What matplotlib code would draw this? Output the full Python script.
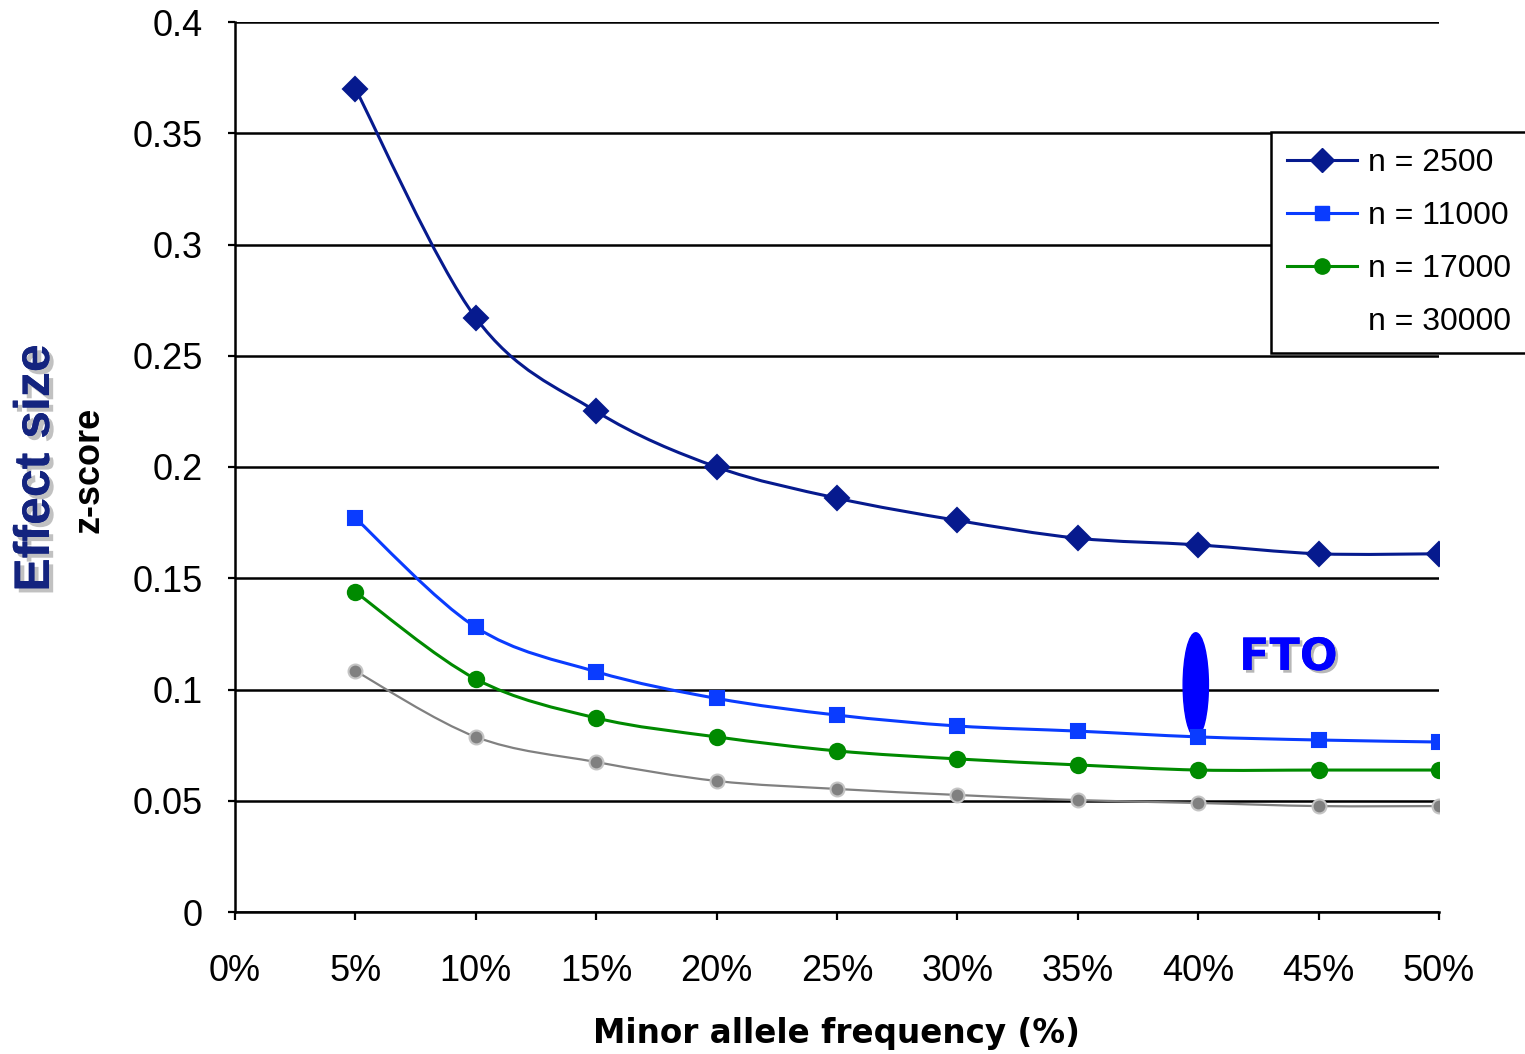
import numpy as np
import matplotlib
matplotlib.use('Agg')
import matplotlib.pyplot as plt
import matplotlib.patheffects as pe
from matplotlib.path import Path
from matplotlib.patches import PathPatch, Ellipse
from matplotlib.lines import Line2D

# minor allele frequency (%) and detectable effect size per sample size
maf = [5, 10, 15, 20, 25, 30, 35, 40, 45, 50]
n2500 = [0.370, 0.267, 0.225, 0.200, 0.186, 0.176, 0.168, 0.165, 0.161, 0.161]
n11000 = [0.177, 0.128, 0.108, 0.096, 0.0885, 0.0836, 0.0813, 0.0787, 0.0773, 0.0764]
n17000 = [0.1438, 0.1047, 0.0872, 0.0787, 0.0724, 0.0688, 0.0661, 0.0638, 0.0638, 0.0638]
n30000 = [0.1083, 0.0787, 0.0674, 0.0589, 0.0553, 0.0526, 0.0503, 0.049, 0.0476, 0.0476]
labels = ['n = 2500', 'n = 11000', 'n = 17000', 'n = 30000']
xticks = list(range(0, 55, 5))
yticks = [0, 0.05, 0.1, 0.15, 0.2, 0.25, 0.3, 0.35, 0.4]
fto_x, fto_y = 39.9, 0.102

navy = '#061a8e'
blue = '#0a3cff'
green = '#008a00'
grey = '#808080'


def smooth(x, y):
    # excel-style smoothed line: cubic bezier segments with catmull-rom tangents
    p = np.column_stack([x, y]).astype(float)
    verts = [p[0]]
    codes = [Path.MOVETO]
    for i in range(len(p) - 1):
        p0 = p[max(i - 1, 0)]
        p1 = p[i]
        p2 = p[i + 1]
        p3 = p[min(i + 2, len(p) - 1)]
        verts += [p1 + (p2 - p0) / 6, p2 - (p3 - p1) / 6, p2]
        codes += [Path.CURVE4] * 3
    return Path(verts, codes)


plt.rcParams['font.family'] = ['Liberation Sans', 'DejaVu Sans']
fig = plt.figure(figsize=(15.25, 10.54), dpi=100)
ax = fig.add_axes([235 / 1525, 142 / 1054, 1204 / 1525, 890 / 1054])

series = [
    (n2500, navy, 'D', 12, navy, 2.2),
    (n11000, blue, 's', 10, blue, 2.2),
    (n17000, green, 'o', 11, green, 2.2),
    (n30000, grey, 'o', 10, '#c4c4c4', 1.6),
]
handles = []
for (vals, col, mk, ms, mec, lw), lab in zip(series, labels):
    ax.add_patch(PathPatch(smooth(maf, vals), fill=False, edgecolor=col, lw=lw, zorder=3))
    ax.plot(maf, vals, linestyle='none', marker=mk, ms=ms, mfc=col, mec=mec,
            mew=1.5, zorder=4)
    if vals is n30000:
        handles.append(Line2D([], [], linestyle='none', label=lab))
    else:
        handles.append(Line2D([], [], color=col, lw=lw, marker=mk, ms=ms, mfc=col,
                              mec=mec, label=lab))

ax.add_patch(Ellipse((fto_x, fto_y), 1.05, 0.047, color='#0000ff', zorder=3.5))
ax.text(41.7, 0.1088, 'FTO', color='#0000ff', fontsize=32, fontweight='bold',
        family='DejaVu Sans', ha='left', va='baseline', zorder=5,
        path_effects=[pe.withSimplePatchShadow(offset=(2, -2), shadow_rgbFace='#888888',
                                               alpha=0.6), pe.Normal()])

ax.set_xlim(0, 50)
ax.set_ylim(0, 0.4)
ax.set_xticks(xticks)
ax.set_xticklabels([f'{t}%' for t in xticks])
ax.set_yticks(yticks)
ax.set_yticklabels(['0', '0.05', '0.1', '0.15', '0.2', '0.25', '0.3', '0.35', '0.4'])
ax.yaxis.grid(True, color='black', lw=1.8, zorder=1)
ax.set_axisbelow(True)
for s in ['top', 'right']:
    ax.spines[s].set_visible(False)
for s in ['left', 'bottom']:
    ax.spines[s].set_linewidth(1.8)
ax.tick_params(axis='y', length=5, width=1.6, pad=18, labelsize=26)
ax.tick_params(axis='x', length=6, width=1.6, pad=24, labelsize=26)

fig.text(836 / 1525, 1 - 1033 / 1054, 'Minor allele frequency (%)', family='DejaVu Sans',
         fontweight='bold', fontsize=23.5, ha='center', va='center')
fig.text(36 / 1525, 1 - 468 / 1054, 'Effect size', rotation=90, fontsize=36,
         fontweight='bold', color='#14247f', ha='center', va='center',
         path_effects=[pe.withSimplePatchShadow(offset=(3, -3), shadow_rgbFace='#999999',
                                                alpha=0.6), pe.Normal()])
fig.text(89 / 1525, 1 - 470 / 1054, 'z-score', rotation=90, fontsize=26,
         fontweight='bold', ha='center', va='center')

leg = fig.legend(handles=handles, loc='upper left',
                 bbox_to_anchor=(1271 / 1525, 1 - 132 / 1054), fontsize=23,
                 frameon=True, fancybox=False, framealpha=1, edgecolor='black',
                 handlelength=2.2, handletextpad=0.35, labelspacing=0.72,
                 borderpad=0.5, borderaxespad=0)
leg.get_frame().set_linewidth(1.8)
leg.set_zorder(10)

fig.savefig('out.png', dpi=100)
